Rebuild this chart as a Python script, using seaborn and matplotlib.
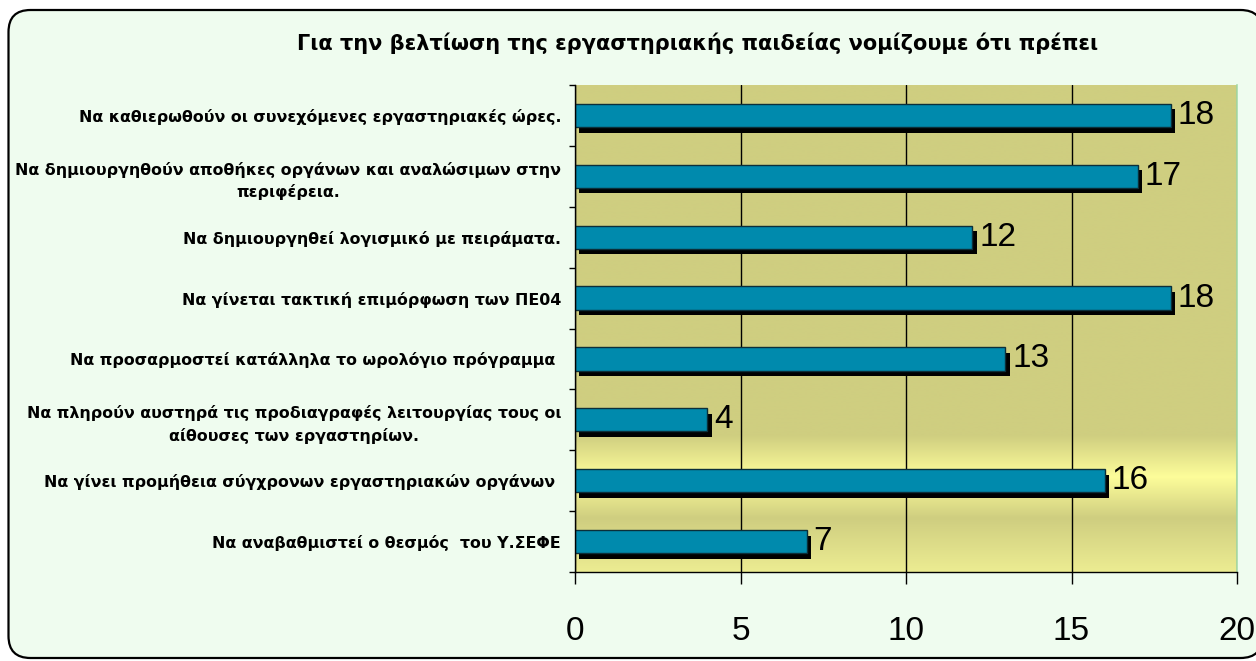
import numpy as np
import pandas as pd
import matplotlib
matplotlib.use("Agg")
import matplotlib.pyplot as plt
import seaborn as sns
from matplotlib.patches import FancyBboxPatch
from matplotlib.colors import to_rgb
import matplotlib.patheffects as pe

# ---------------- data ----------------
title = "Για την βελτίωση της εργαστηριακής παιδείας νομίζουμε ότι πρέπει"
categories = [
    "Να καθιερωθούν οι συνεχόμενες εργαστηριακές ώρες.",
    "Να δημιουργηθούν αποθήκες οργάνων και αναλώσιμων στην\nπεριφέρεια.",
    "Να δημιουργηθεί λογισμικό με πειράματα.",
    "Να γίνεται τακτική επιμόρφωση των ΠΕ04",
    "Να προσαρμοστεί κατάλληλα το ωρολόγιο πρόγραμμα ",
    "Να πληρούν αυστηρά τις προδιαγραφές λειτουργίας τους οι\nαίθουσες των εργαστηρίων.",
    "Να γίνει προμήθεια σύγχρονων εργαστηριακών οργάνων ",
    "Να αναβαθμιστεί ο θεσμός  του Υ.ΣΕΦΕ",
]
values = [18, 17, 12, 18, 13, 4, 16, 7]
xticks = [0, 5, 10, 15, 20]

df = pd.DataFrame({"category": categories, "value": values})

# ---------------- style ----------------
sns.set_theme(style="white")
plt.rcParams['font.family'] = ['Liberation Sans', 'DejaVu Sans']
wide = ['DejaVu Sans', 'Liberation Sans']

W, H = 1256, 661
fig = plt.figure(figsize=(W / 100, H / 100), dpi=100)
fig.patch.set_facecolor('white')

frame = FancyBboxPatch((0.085, 0.03), 12.54, 6.48,
                       boxstyle="round,pad=0,rounding_size=0.22",
                       transform=fig.dpi_scale_trans,
                       facecolor='#effcef', edgecolor='black',
                       linewidth=1.6, zorder=-10)
fig.patches.append(frame)

ax = fig.add_axes([575 / W, 1 - 572 / H, 662 / W, 487 / H])
ax.set_zorder(1)
ax.set_facecolor('none')

# gradient background of the plot area
khaki = np.array(to_rgb('#cfce80'))
yellow = np.array(to_rgb('#fdfd9a'))
light = np.array(to_rgb('#ecec92'))
stops = [(0.0, khaki), (0.72, khaki), (0.805, yellow), (0.89, khaki), (1.0, light)]
t = np.linspace(0, 1, 600)
grad = np.zeros((600, 1, 3))
for c in range(3):
    grad[:, 0, c] = np.interp(t, [s[0] for s in stops], [s[1][c] for s in stops])
ax.imshow(grad, extent=[0, 1, 0, 1], transform=ax.transAxes,
          aspect='auto', origin='upper', zorder=-1, interpolation='bilinear')

sns.barplot(data=df, x="value", y="category", orient="h", color="#008aad",
            saturation=1, width=0.38, edgecolor="#0b2f3a", linewidth=1,
            ax=ax, zorder=2)

for p in ax.patches:
    p.set_path_effects([pe.SimplePatchShadow(offset=(3.2, -4), shadow_rgbFace='black', alpha=1.0),
                        pe.Normal()])

ax.bar_label(ax.containers[0], padding=5, fontsize=24, color='black')

ax.set_xlim(0, 20)
ax.set_ylim(7.5, -0.5)
ax.set_xticks(xticks)
ax.set_xticklabels([str(v) for v in xticks])
ax.grid(axis='x', color='black', linewidth=1)
ax.grid(axis='y', visible=False)
ax.set_axisbelow(True)

ax.tick_params(axis='x', length=8.5, width=1, pad=23, labelsize=24,
               direction='out', color='black', bottom=True, labelcolor='black')
ax.set_yticks(np.arange(-0.5, 8, 1), minor=True)
ax.tick_params(axis='y', which='major', length=0, pad=10, labelsize=11.4, labelcolor='black')
ax.tick_params(axis='y', which='minor', length=4, width=1, direction='out',
               left=True, color='black')
for lab in ax.get_yticklabels():
    lab.set_fontweight('bold')
    lab.set_family(wide)
    lab.set_multialignment('center')
    lab.set_linespacing(1.5)

ax.set_xlabel('')
ax.set_ylabel('')

for s in ['left', 'bottom']:
    ax.spines[s].set_color('black')
    ax.spines[s].set_linewidth(1)
ax.spines['top'].set_visible(False)
ax.spines['right'].set_color('#a8dca8')
ax.spines['right'].set_linewidth(1.2)

fig.text(698 / W, 1 - 43 / H, title, ha='center', va='center',
         fontsize=15, fontweight='bold', color='black', family=wide)

fig.savefig('out.png', dpi=100)
